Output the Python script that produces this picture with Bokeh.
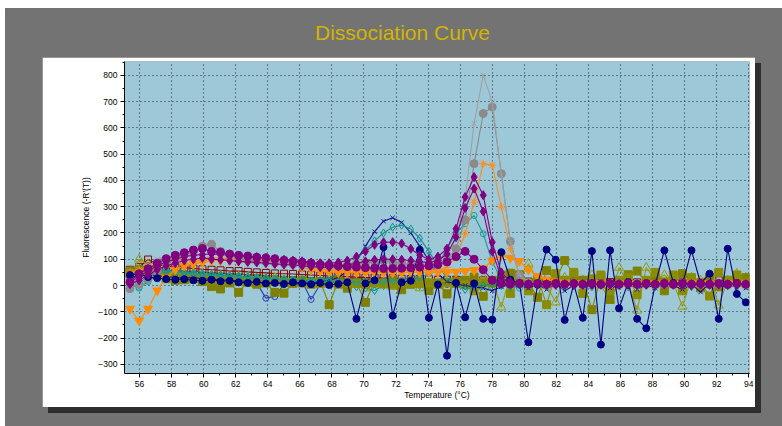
from bokeh.plotting import figure
from bokeh.models import FixedTicker, Spacer
from bokeh.layouts import column, row
from bokeh.core.properties import value
from bokeh.embed import file_html
from bokeh.resources import INLINE

# ---------------- data ----------------
temps = [55.40, 55.97, 56.53, 57.10, 57.66, 58.23, 58.79, 59.36, 59.92, 60.49,
         61.05, 61.62, 62.18, 62.75, 63.31, 63.88, 64.44, 65.01, 65.57, 66.14,
         66.70, 67.27, 67.83, 68.40, 68.96, 69.53, 70.09, 70.66, 71.22, 71.79,
         72.35, 72.92, 73.48, 74.05, 74.61, 75.18, 75.74, 76.31, 76.87, 77.44,
         78.00, 78.57, 79.13, 79.70, 80.26, 80.83, 81.39, 81.96, 82.52, 83.09,
         83.65, 84.22, 84.78, 85.35, 85.91, 86.48, 87.04, 87.61, 88.17, 88.74,
         89.30, 89.87, 90.43, 91.00, 91.56, 92.13, 92.69, 93.26, 93.82]

green_tri = [50, 55, 60, 55, 50, 48, 45, 46, 42, 40,
             38, 36, 35, 33, 32, 30, 28, 26, 25, 24,
             22, 20, 21, 18, 18, 17, 16, 15, 15, 16,
             14, 14, 13, 13, 12, 12, 13, 12, 12, 11,
             12, 13, 12, 12, 11, 12, 12, 13, 12, 12,
             10, 11, 10, 10, 11, 10, 10, 12, 10, 10,
             11, 10, 10, 11, 10, 10, 12, 10, 10]
darkred_sq = [60, 70, 99, 80, 75, 70, 68, 65, 62, 60,
              58, 55, 55, 52, 50, 48, 46, 45, 44, 42,
              40, 38, 36, 35, 34, 32, 30, 30, 28, 28,
              26, 25, 25, 24, 22, 22, 22, 20, 20, 20,
              18, 18, 16, 16, 15, 15, 15, 14, 14, 14,
              14, 13, 13, 13, 12, 12, 12, 12, 12, 12,
              12, 12, 11, 11, 11, 20, 11, 11, 10]
cyan_open = [10, -6, 20, 40, 50, 48, 45, 42, 40, 38,
             36, 34, 32, 30, 28, 26, 25, 24, 22, 20,
             18, 17, 16, 15, 14, 13, 12, 12, 11, 11,
             10, 10, 11, 10, 9, 10, 11, 10, 9, 10,
             10, 9, 10, 11, 10, 9, 10, 10, 11, 10,
             9, 10, 10, 11, 10, 9, 10, 10, 11, 10,
             9, 10, 10, 11, 10, 9, 10, 10, 11]
teal_diam2 = [35, 45, 50, 48, 46, 44, 42, 40, 38, 36,
              34, 32, 30, 28, 26, 25, 24, 22, 20, 18,
              16, 14, 12, 10, 5, -5, -10, -19, 0, 5,
              8, 5, 0, -5, 5, 8, 5, 3, 5, 8,
              5, 3, 0, 5, 8, 5, 3, 5, 8, 5,
              3, 5, 8, 5, 3, 5, 8, 5, 3, 5,
              8, 5, 3, 5, 8, 5, 3, 5, 8]
blue_open = [30, 40, 45, 42, 40, 38, 36, 35, 33, 30,
             28, 25, 22, 18, 10, -48, -42, 5, 10, 15,
             -53, 5, 10, 8, 5, 8, 6, 5, 4, 5,
             6, 5, 4, 3, 5, 4, 3, 5, 4, 3,
             5, 3, 4, 5, 3, 4, 5, 3, 4, 5,
             3, 4, 5, 3, 4, 5, 3, 4, 5, 3,
             4, 5, 3, 4, 5, 3, 4, 5, 3]
olive_tri = [40, 100, 80, 60, 55, 50, 45, 48, 42, 40,
             38, 35, 35, 30, 28, 25, 30, 20, 15, 20,
             10, 15, 5, 10, 0, 5, -10, 5, 0, -5,
             5, 0, -10, 5, 0, -5, 10, 20, 10, 30,
             20, -83, 40, 10, 83, 20, 0, -64, 30, 10,
             20, 40, 0, -57, 68, 10, -95, 68, 20, 40,
             10, -80, 30, 20, 40, -76, 20, 45, 30]
olive_sq1 = [55, 60, 50, 40, 26, 20, 22, 25, 15, -4,
             -13, 10, -26, 15, 5, 10, -26, -29, 10, 20,
             5, 15, -73, 20, -10, 10, -64, 15, 10, 20,
             -16, 10, 20, -19, 10, -32, 15, 20, 32, -41,
             10, 20, 47, 41, 10, -45, 57, 20, 95, 40,
             20, -92, 32, -53, 10, 41, 55, 10, 30, -20,
             10, 45, 20, -9, 30, -5, 10, 20, 30]
olive_sq2 = [45, 50, 55, 45, 35, 30, 28, 30, 25, 20,
             18, 20, 15, 12, 18, 10, 15, 12, 8, 10,
             12, 8, 10, 5, 10, 8, 5, 10, 8, 5,
             10, 5, 8, 10, 5, 12, 8, 5, -20, 10,
             20, 40, -30, 15, -20, 30, -73, 45, 20, 50,
             -30, 25, 40, -20, 20, 30, -35, 20, 50, 10,
             40, -20, 30, 10, -40, 50, 20, 40, 10]
navy_x = [30, 35, 40, 38, 35, 30, 28, 30, 26, 25,
          22, 20, 18, 15, 12, 10, 8, 10, 5, 8,
          10, 15, 20, 30, 55, 95, 150, 205, 245, 258,
          240, 200, 150, 95, 45, 15, 5, 0, -5, -10,
          -20, -5, 10, 0, -10, 5, -15, 10, -20, 0,
          10, -5, 15, -10, 0, 20, -15, 5, -10, 10,
          0, -15, 5, -25, 10, 0, -5, 15, -10]
teal_diam = [20, 10, 35, 55, 60, 55, 50, 48, 45, 42,
             40, 38, 35, 32, 30, 28, 25, 22, 20, 18,
             15, 20, 30, 45, 70, 100, 135, 170, 200, 222,
             230, 215, 180, 130, 75, 30, 5, -15, -5, 0,
             5, 0, -5, 10, 0, 5, -5, 10, 0, 5,
             0, -5, 5, 0, 10, -5, 0, 5, -5, 0,
             5, 0, -5, 5, 0, 10, 0, -5, 5]
teal_circ = [5, -10, 15, 45, 55, 50, 48, 45, 42, 40,
             38, 35, 33, 30, 28, 26, 24, 22, 20, 20,
             18, 18, 15, 15, 15, 12, 12, 15, 15, 18,
             20, 25, 30, 45, 80, 140, 200, 235, 267, 197,
             90, 25, 0, -10, 5, 0, 10, 5, 0, 5,
             10, 5, 0, 5, 10, 0, 5, 10, 5, 0,
             5, 10, 0, 5, 10, 5, 0, 5, 10]
orange_tri = [-89, -134, -89, -19, 30, 60, 75, 82, 88, 95,
              95, 95, 93, 92, 92, 90, 88, 85, 80, 70,
              60, 55, 52, 50, 50, 50, 50, 50, 50, 50,
              50, 50, 50, 50, 50, 50, 52, 55, 58, 65,
              95, 115, 105, 93, 60, 35, 22, 15, 10, 8,
              8, 5, 8, 5, 8, 5, 8, 5, 8, 5,
              8, 5, 8, 5, 8, 5, 8, 5, 8]
orange_star = [50, 60, 70, 80, 85, 95, 100, 100, 98, 100,
               102, 100, 98, 95, 95, 92, 90, 88, 85, 82,
               80, 78, 75, 72, 70, 68, 66, 65, 64, 63,
               62, 60, 58, 56, 55, 70, 108, 197, 318, 464,
               458, 299, 140, 40, 10, 5, 0, 5, 0, 5,
               0, 5, 0, 5, 0, 5, 0, 5, 0, 5,
               0, 5, 0, 5, 0, 5, 0, 5, 0]
gray_dot = [-12, 5, 25, 55, 80, 100, 115, 130, 150, 157,
            130, 115, 105, 100, 95, 92, 88, 85, 82, 80,
            78, 76, 75, 75, 78, 82, 86, 90, 95, 90,
            85, 80, 76, 78, 90, 100, 140, 250, 464, 655,
            680, 426, 168, 40, 10, 5, 3, 5, 3, 5,
            3, 5, 3, 5, 3, 5, 3, 5, 3, 5,
            3, 5, 3, 5, 3, 5, 3, 5, 3]
gray_x = [-5, 30, 70, 100, 112, 105, 115, 120, 110, 105,
          100, 95, 92, 88, 85, 82, 80, 78, 75, 72,
          70, 68, 66, 65, 64, 63, 62, 62, 62, 62,
          62, 63, 64, 66, 75, 110, 180, 330, 617, 801,
          700, 420, 165, 40, 15, 8, 5, 5, 5, 5,
          5, 8, 5, 3, 5, 8, 5, 3, 5, 8,
          5, 3, 5, 8, 5, 3, 5, 8, 5]
navy_dots = [40, 45, 32, 28, 25, 22, 24, 20, 18, 22,
             16, 18, 12, 10, 14, 8, 10, 6, 12, 8,
             5, 10, 2, 6, 12, -127, 8, 20, 146, -115,
             12, 18, 136, -123, 4, -267, 10, -121, 8, -127,
             -130, 127, 22, 8, -216, 4, 137, 98, -131, 6,
             -123, 131, -225, 134, -87, 12, -127, -163, 4, 134,
             10, 6, 134, 8, 45, -127, 140, -32, -64]
purple2 = [5, 20, 40, 60, 75, 85, 95, 100, 105, 100,
           98, 95, 92, 90, 88, 85, 82, 80, 78, 75,
           72, 70, 70, 72, 78, 85, 92, 98, 100, 100,
           98, 95, 90, 88, 95, 120, 184, 295, 369, 282,
           130, 30, 8, 5, 3, 5, 2, 5, 3, 5,
           2, 5, 3, 5, 2, 5, 3, 5, 2, 5,
           3, 5, 2, 5, 3, 5, 2, 5, 3]
purple1 = [10, 35, 55, 75, 90, 100, 110, 115, 118, 120,
           118, 115, 112, 110, 108, 105, 100, 98, 95, 92,
           88, 85, 85, 88, 95, 110, 130, 155, 165, 165,
           160, 140, 115, 100, 110, 140, 216, 337, 413, 344,
           165, 50, 15, 8, 5, 3, 5, 3, 5, 2,
           5, 3, 5, 3, 5, 3, 5, 3, 5, 3,
           5, 3, 5, 3, 5, 3, 5, 3, 5]
purple3 = [13, 45, 64, 85, 102, 115, 125, 135, 141, 130,
           127, 120, 115, 112, 108, 105, 102, 96, 92, 89,
           85, 80, 78, 75, 72, 70, 68, 66, 65, 65,
           66, 68, 70, 75, 80, 90, 110, 130, 100, 60,
           20, 8, 5, 8, 5, 8, 5, 8, 5, 8,
           5, 8, 5, 8, 5, 8, 5, 8, 5, 8,
           5, 8, 5, 8, 5, 8, 5, 8, 5]

x_ticks = [56, 58, 60, 62, 64, 66, 68, 70, 72, 74, 76, 78, 80, 82, 84, 86, 88, 90, 92, 94]
x_minor = [55, 57, 59, 61, 63, 65, 67, 69, 71, 73, 75, 77, 79, 81, 83, 85, 87, 89, 91, 93]
y_ticks = [-300, -200, -100, 0, 100, 200, 300, 400, 500, 600, 700, 800]
y_minor = [-350, -250, -150, -50, 50, 150, 250, 350, 450, 550, 650, 750, 850]

title_text = "Dissociation Curve"

# (values, colour, marker, filled, size) -- drawn in this order
series = [
    (green_tri, "#008000", "inverted_triangle", True, 8),
    (darkred_sq, "#8b0000", "square", False, 7),
    (cyan_open, "#30b4b4", "circle", False, 6),
    (teal_diam2, "#009090", "diamond", False, 8),
    (blue_open, "#2a3cb0", "circle", False, 6),
    (olive_tri, "#9a9a10", "triangle", False, 9),
    (olive_sq1, "#808000", "square", True, 8),
    (olive_sq2, "#8c8c00", "square", True, 8),
    (navy_x, "#10108c", "x", False, 6),
    (teal_diam, "#108c8c", "diamond", False, 8),
    (teal_circ, "#1a9a9a", "circle", False, 6),
    (orange_tri, "#ff8c00", "inverted_triangle", True, 9),
    (orange_star, "#ff8c1a", "asterisk", False, 8),
    (gray_dot, "#8a8a8a", "circle", True, 8),
    (gray_x, "#a0a0a0", "x", False, 7),
    (navy_dots, "#000080", "circle", True, 7),
    (purple2, "#800080", "diamond", True, 9),
    (purple1, "#800080", "diamond", True, 9),
    (purple3, "#800080", "circle", True, 8),
]

GRAY = "#737373"

# ---------- title strip ----------
pt = figure(width=777, height=49, x_range=(0, 777), y_range=(49, 0),
            output_backend="svg", toolbar_location=None, title=None,
            x_axis_type=None, y_axis_type=None,
            min_border=0, min_border_left=0, min_border_right=0,
            min_border_top=0, min_border_bottom=0,
            background_fill_color=GRAY, border_fill_color=GRAY,
            outline_line_color=None)
pt.xgrid.visible = False
pt.ygrid.visible = False
pt.text(x=[397], y=[24], text=[title_text], text_align="center",
        text_baseline="middle", text_color="#d2b400",
        text_font=value("Liberation Sans"), text_font_size="21px")

# ---------- main chart (white panel) ----------
p = figure(width=713, height=350, x_range=(55.06, 94.05), y_range=(-335, 853),
           output_backend="svg", toolbar_location=None, title=None,
           min_border_left=82, min_border_right=6, min_border_top=4, min_border_bottom=34,
           background_fill_color="#9dc8d8", border_fill_color="white",
           outline_line_color=None,
           styles={"box-shadow": "6px 6px 0px #2e2e2e"})

for vals, color, marker, filled, size in series:
    p.line(temps, vals, line_color=color, line_width=1.1)
    p.scatter(temps, vals, marker=marker, size=size, line_color=color,
              fill_color=color if filled else None, line_width=1)

p.xaxis.ticker = FixedTicker(ticks=x_ticks, minor_ticks=x_minor)
p.yaxis.ticker = FixedTicker(ticks=y_ticks, minor_ticks=y_minor)
p.xaxis.axis_label = "Temperature (°C)"
p.yaxis.axis_label = "Fluorescence (-R'(T))"
for ax in (p.xaxis[0], p.yaxis[0]):
    ax.axis_line_color = "black"
    ax.major_tick_line_color = "black"
    ax.minor_tick_line_color = "black"
    ax.major_tick_out = 4
    ax.major_tick_in = 0
    ax.minor_tick_out = 2
    ax.minor_tick_in = 0
    ax.major_label_text_font = "Liberation Sans"
    ax.major_label_text_font_size = "8.5px"
    ax.major_label_text_color = "black"
    ax.axis_label_text_font = "Liberation Sans"
    ax.axis_label_text_font_size = "8.5px"
    ax.axis_label_text_font_style = "normal"
    ax.axis_label_text_color = "black"
p.xaxis.major_label_standoff = 3
p.yaxis.major_label_standoff = 3
p.xaxis.axis_label_standoff = 0
p.yaxis.axis_label_standoff = 4

for g in (p.xgrid[0], p.ygrid[0]):
    g.grid_line_color = "black"
    g.grid_line_dash = "1 3"
    g.grid_line_alpha = 0.8

gray_area = column(
    pt,
    row(Spacer(width=37, height=350), p, Spacer(width=27, height=350)),
    Spacer(width=777, height=19),
    styles={"background-color": GRAY},
)
layout = row(
    Spacer(width=5, height=426),
    column(Spacer(width=777, height=8), gray_area),
)

open("out.html", "w").write(file_html(layout, INLINE))
